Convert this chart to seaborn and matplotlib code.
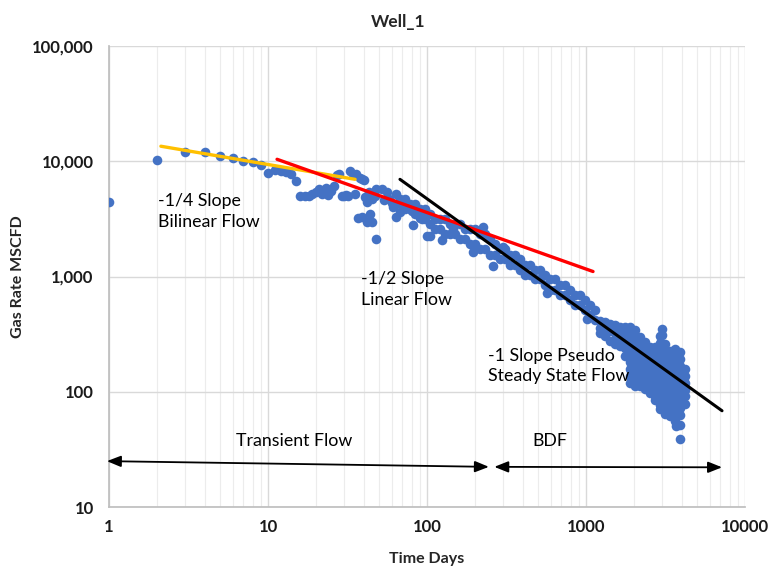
import numpy as np
import pandas as pd
import matplotlib
matplotlib.use('Agg')
import matplotlib.pyplot as plt
from matplotlib.ticker import FuncFormatter, LogLocator, NullFormatter
import seaborn as sns

# points: days 1-100
early_days = [1, 2, 3, 4, 5, 6, 7, 8, 9, 10, 11, 12, 13, 14, 15, 16, 17, 18, 19, 20,
              21, 22, 23, 24, 25, 26, 27, 28, 29, 30, 31, 32, 33, 34, 36, 38, 39, 40,
              37, 39, 42, 44, 45, 48, 41, 43, 45, 48, 52, 56, 58, 61, 64, 64, 68, 70,
              75, 80, 82, 88, 93, 97, 100, 35, 42, 47, 54, 60]
early_rates = [4450, 10300, 12100, 12000, 11000, 10600, 10100, 9800, 9300, 7900, 8400, 8200,
               8000, 7800, 6700, 4950, 4950, 4950, 5150, 5400, 5700, 5150, 5900, 5100, 5500,
               6100, 7600, 7700, 5000, 5000, 5100, 5000, 8200, 7700, 7700, 7200, 7000, 6900,
               3250, 3300, 3000, 3500, 2950, 2100, 4900, 5400, 4700, 5700, 5700, 5400, 4700,
               4000, 5200, 3260, 3600, 4400, 4000, 3700, 2800, 3500, 3150, 3700, 2250,
               5200, 4450, 5000, 4600, 4300]

# days 100-1200, upper and lower edge of the band
band_days = [68, 68, 73, 73, 78, 78, 84, 84, 90, 90, 97, 97, 104, 104, 112, 112, 121, 121,
             130, 130, 140, 140, 150, 150, 161, 161, 173, 173, 186, 186, 200, 200, 215, 215,
             232, 232, 249, 249, 268, 268, 288, 288, 310, 310, 333, 333, 358, 358, 385, 385,
             413, 413, 445, 445, 478, 478, 514, 514, 552, 552, 594, 594, 638, 638, 686, 686,
             738, 738, 793, 793, 853, 853, 917, 917, 986, 986, 1060, 1060, 1140, 1140,
             195, 260, 225, 570, 1020, 104, 125, 145, 300]
band_rates = [4670, 4230, 4670, 3830, 4230, 3830, 4230, 3460, 3830, 3250, 3830, 3130,
              3460, 2830, 3130, 2560, 3130, 2560, 3130, 2320, 2830, 2320, 2830, 2320,
              2830, 2100, 2560, 2100, 2560, 1900, 2560, 1900, 2320, 1720, 2320, 1720,
              2100, 1550, 1900, 1550, 1720, 1410, 1720, 1410, 1550, 1270, 1550, 1270,
              1410, 1150, 1270, 1040, 1270, 1040, 1150, 942, 1150, 942, 1040, 851,
              942, 771, 942, 771, 851, 697, 851, 697, 771, 631, 697, 571, 697, 571,
              631, 516, 571, 467, 516, 423,
              1620, 1230, 2680, 720, 425, 2230, 2090, 2600, 1820]

# days 1200-4200, the dense cloud at the end
late_days = ([1225] * 3 + [1317] * 3 + [1415] * 3 + [1521] * 4 + [1636] * 4 + [1759] * 5
             + [1891] * 9 + [2033] * 9 + [2186] * 8 + [2350] * 8 + [2527] * 8 + [2717] * 9
             + [2921] * 12 + [3140] * 11 + [3376] * 10 + [3630] * 11 + [3902] * 11
             + [4195] * 6 + [3000, 3000, 3700, 3900])
late_rates = [414, 360, 326,
              406, 353, 307,
              390, 339, 278,
              383, 333, 289, 261,
              367, 319, 278, 251,
              367, 319, 278, 241, 206,
              367, 319, 278, 241, 210, 182, 158, 138, 120,
              346, 301, 261, 227, 198, 172, 149, 130, 113,
              301, 261, 227, 198, 172, 149, 130, 113,
              272, 236, 206, 179, 155, 135, 117, 106,
              246, 214, 186, 162, 141, 122, 106, 98,
              246, 214, 186, 162, 141, 122, 106, 92, 84,
              307, 267, 232, 202, 175, 152, 132, 115, 100, 87, 76, 71,
              261, 227, 198, 172, 149, 130, 113, 98, 85, 74, 64,
              227, 198, 172, 149, 130, 113, 98, 85, 74, 62,
              236, 206, 179, 155, 135, 117, 102, 89, 77, 67, 56,
              223, 194, 168, 146, 127, 110, 96, 84, 73, 63, 51,
              158, 138, 120, 104, 91, 79,
              313, 350, 50, 39]

# slope lines (end points)
quarter_x = [2.12, 35.3]
quarter_y = [13500, 6970]
half_x = [11.4, 1107]
half_y = [10400, 1105]
unit_x = [67.6, 7170]
unit_y = [6970, 68.4]

df = pd.DataFrame({
    'Time Days': early_days + band_days + late_days,
    'Gas Rate MSCFD': early_rates + band_rates + late_rates,
})

sns.set_theme(style='white')
plt.rcParams['font.family'] = ['Lato', 'DejaVu Sans']

fig = plt.figure(figsize=(7.69, 5.67), dpi=100)
ax = fig.add_axes([109 / 769, 1 - 507 / 567, 636 / 769, 461 / 567])

sns.scatterplot(data=df, x='Time Days', y='Gas Rate MSCFD', color='#4472C4',
                s=48, linewidth=0, ax=ax, zorder=3)

sns.lineplot(x=quarter_x, y=quarter_y, color='#FFC000', linewidth=2.4, ax=ax, zorder=4)
sns.lineplot(x=half_x, y=half_y, color='#FF0000', linewidth=2.4, ax=ax, zorder=4)
sns.lineplot(x=unit_x, y=unit_y, color='black', linewidth=2.2, ax=ax, zorder=4)

ax.set_xscale('log')
ax.set_yscale('log')
ax.set_xlim(1, 10000)
ax.set_ylim(10, 100000)

ax.xaxis.set_major_locator(LogLocator(base=10))
ax.xaxis.set_minor_locator(LogLocator(base=10, subs=np.arange(2, 10)))
ax.xaxis.set_minor_formatter(NullFormatter())
ax.xaxis.set_major_formatter(FuncFormatter(lambda v, p: f'{v:.0f}'))
ax.yaxis.set_major_locator(LogLocator(base=10))
ax.yaxis.set_minor_locator(LogLocator(base=10, subs=[]))
ax.yaxis.set_major_formatter(FuncFormatter(lambda v, p: f'{v:,.0f}'))

ax.grid(which='major', color='#D9D9D9', linewidth=1.0)
ax.grid(which='minor', axis='x', color='#ECECEC', linewidth=0.8)
ax.set_axisbelow(True)
for side in ['top', 'right']:
    ax.spines[side].set_visible(False)
for side in ['left', 'bottom']:
    ax.spines[side].set_color('#BFBFBF')
ax.tick_params(which='both', length=0, labelsize=12, colors='#1a1a1a')
ax.tick_params(axis='y', pad=11)
ax.tick_params(axis='x', pad=9)
for lab in ax.get_xticklabels() + ax.get_yticklabels():
    lab.set_fontweight('bold')

ax.set_xlabel('Time Days', fontsize=11.5, fontweight='bold')
ax.set_ylabel('Gas Rate MSCFD', fontsize=11.5, fontweight='bold')
ax.xaxis.set_label_coords(0.5, -0.097)
ax.yaxis.set_label_coords(-0.132, 0.5)
fig.text(398 / 769, 1 - 22 / 567, 'Well_1', ha='center', va='center',
         fontsize=12.5, fontweight='bold')

note = dict(fontsize=12.8, color='black', linespacing=1.35, zorder=5)
ax.text(2.03, 3670, '-1/4 Slope\nBilinear Flow', va='center', **note)
ax.text(38.5, 771, '-1/2 Slope\nLinear Flow', va='center', **note)
ax.text(242, 168, '-1 Slope Pseudo\nSteady State Flow', va='center', **note)
ax.text(14.6, 37.5, 'Transient Flow', ha='center', va='center', **note)
ax.text(594, 37.5, 'BDF', ha='center', va='center', **note)

arrow = dict(arrowstyle='<|-|>,head_length=0.7,head_width=0.28', color='black',
             linewidth=1.3, shrinkA=0, shrinkB=0)
ax.annotate('', xy=(245, 22.3), xytext=(0.97, 25), arrowprops=arrow,
            annotation_clip=False)
ax.annotate('', xy=(7170, 22.1), xytext=(265, 22.3), arrowprops=arrow,
            annotation_clip=False)

fig.savefig('out.png', dpi=100)
